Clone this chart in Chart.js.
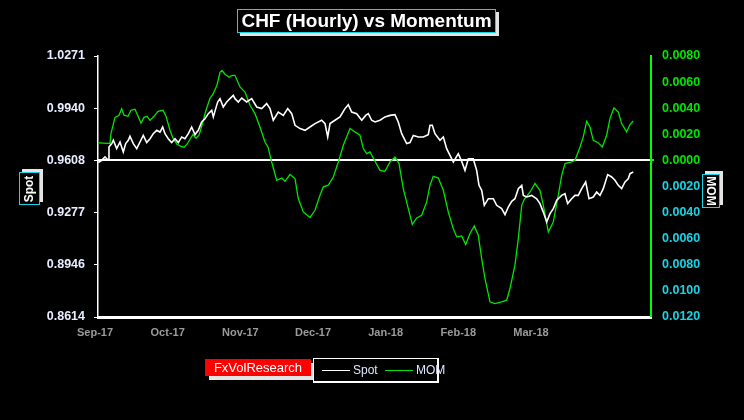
<!DOCTYPE html>
<html lang="en">
<head>
  <meta charset="UTF-8">
  <title>CHF (Hourly) vs Momentum</title>
  <script src="https://cdn.jsdelivr.net/npm/chart.js"></script>
  <style>
    * { box-sizing: border-box; margin: 0; padding: 0; }
    body {
      background: #000;
      width: 744px;
      height: 420px;
      overflow: hidden;
      font-family: 'Liberation Sans', Arial, sans-serif;
    }
    .wrap { position: relative; width: 744px; height: 420px; }
    canvas { position: absolute; left: 0; top: 0; }

    .title {
      position: absolute;
      left: 237px; top: 9px;
      width: 259px; height: 24px;
      border: 1px solid #19d3e6;
      background: #000;
      box-shadow: 3px 3px 0 #e4e4e4;
      color: #fff;
      font-weight: bold;
      font-size: 19px;
      line-height: 22px;
      text-align: center;
      white-space: nowrap;
    }

    .axis-box {
      position: absolute;
      border: 1px solid #19d3e6;
      background: #000;
      box-shadow: 3px -3px 0 #e4e4e4;
      display: flex;
      align-items: center;
      justify-content: center;
    }
    .axis-box span {
      color: #fff;
      font-weight: bold;
      font-size: 12px;
      white-space: nowrap;
    }
    .spot-box { left: 19px; top: 172px; width: 21px; height: 33px; }
    .spot-box span { transform: rotate(-90deg); }
    .mom-box { left: 702px; top: 174px; width: 18px; height: 34px; }
    .mom-box span { transform: rotate(90deg); }

    .brand {
      position: absolute;
      left: 205px; top: 359px;
      width: 106px; height: 17px;
      background: #ff0000;
      box-shadow: 4px 4px 0 #e4e4e4;
      color: #fff;
      font-size: 13px;
      line-height: 17px;
      text-align: center;
      white-space: nowrap;
    }
    .legend {
      position: absolute;
      left: 313px; top: 358px;
      width: 126px; height: 25px;
      border: 1px solid #fff;
      border-right-width: 2px;
      border-bottom-width: 2px;
      background: #000;
    }
    .legend .swatch { position: absolute; top: 11px; width: 28px; height: 1px; }
    .legend .lbl {
      position: absolute; top: 4px;
      color: #dde6ff;
      font-size: 12px;
      line-height: 14px;
      white-space: nowrap;
    }
  </style>
</head>
<body>
  <div class="wrap">
    <canvas id="chart" width="744" height="420"></canvas>
    <div class="title">CHF (Hourly) vs Momentum</div>
    <div class="axis-box spot-box"><span>Spot</span></div>
    <div class="axis-box mom-box"><span>MOM</span></div>
    <div class="brand">FxVolResearch</div>
    <div class="legend">
      <div class="swatch" style="left:8px; background:#fff;"></div>
      <div class="lbl" style="left:39px;">Spot</div>
      <div class="swatch" style="left:71px; background:#00e600;"></div>
      <div class="lbl" style="left:102px;">MOM</div>
    </div>
  </div>

  <script>
    // month labels on the x axis (x values are in months from Sep-17)
    const monthLabels = ['Sep-17', 'Oct-17', 'Nov-17', 'Dec-17', 'Jan-18', 'Feb-18', 'Mar-18'];
    const spotTicks = [0.8614, 0.8946, 0.9277, 0.9608, 0.9940, 1.0271];

    // Spot (left axis)
    const spotT = [0.004, 0.051, 0.096, 0.142, 0.151, 0.189, 0.211, 0.257, 0.303, 0.348,
      0.381, 0.417, 0.440, 0.486, 0.533, 0.578, 0.623, 0.670, 0.716, 0.761,
      0.808, 0.853, 0.890, 0.922, 0.967, 1.014, 1.060, 1.105, 1.152, 1.197,
      1.243, 1.289, 1.335, 1.380, 1.427, 1.472, 1.518, 1.565, 1.587, 1.620,
      1.647, 1.679, 1.724, 1.771, 1.816, 1.862, 1.885, 1.931, 1.977, 2.046,
      2.115, 2.184, 2.253, 2.321, 2.367, 2.412, 2.481, 2.550, 2.611, 2.666,
      2.711, 2.780, 2.849, 2.917, 2.986, 3.078, 3.124, 3.161, 3.193, 3.261,
      3.330, 3.399, 3.444, 3.491, 3.560, 3.629, 3.684, 3.720, 3.766, 3.812,
      3.881, 3.949, 4.018, 4.087, 4.132, 4.179, 4.248, 4.293, 4.339, 4.408,
      4.477, 4.545, 4.569, 4.600, 4.637, 4.706, 4.752, 4.798, 4.844, 4.890,
      4.958, 5.005, 5.050, 5.096, 5.164, 5.211, 5.243, 5.280, 5.316, 5.371,
      5.440, 5.486, 5.555, 5.601, 5.646, 5.693, 5.738, 5.784, 5.831, 5.853,
      5.900, 5.968, 6.037, 6.082, 6.128, 6.175, 6.220, 6.266, 6.313, 6.381,
      6.426, 6.463, 6.518, 6.564, 6.609, 6.656, 6.711, 6.757, 6.816, 6.862,
      6.908, 6.953, 7.014, 7.069, 7.114, 7.160, 7.206, 7.252, 7.297, 7.321,
      7.366];
    const spotVals = [0.9594, 0.9609, 0.9630, 0.9609, 0.9693, 0.9715, 0.9736, 0.9683, 0.9725, 0.9661,
      0.9715, 0.9736, 0.9761, 0.9715, 0.9683, 0.9725, 0.9767, 0.9721, 0.9746, 0.9778,
      0.9799, 0.9788, 0.9820, 0.9778, 0.9746, 0.9721, 0.9746, 0.9721, 0.9757, 0.9746,
      0.9778, 0.9820, 0.9772, 0.9799, 0.9852, 0.9873, 0.9905, 0.9926, 0.9884, 0.9937,
      0.9979, 1.0000, 0.9947, 0.9979, 1.0000, 1.0021, 1.0000, 0.9979, 1.0004, 0.9979,
      1.0000, 0.9947, 0.9937, 0.9969, 0.9937, 0.9863, 0.9915, 0.9894, 0.9937, 0.9905,
      0.9831, 0.9810, 0.9799, 0.9820, 0.9842, 0.9863, 0.9842, 0.9757, 0.9842, 0.9863,
      0.9884, 0.9937, 0.9962, 0.9915, 0.9905, 0.9863, 0.9894, 0.9905, 0.9863, 0.9852,
      0.9863, 0.9884, 0.9894, 0.9899, 0.9852, 0.9778, 0.9715, 0.9721, 0.9767, 0.9757,
      0.9757, 0.9772, 0.9831, 0.9831, 0.9778, 0.9736, 0.9757, 0.9683, 0.9640, 0.9598,
      0.9651, 0.9602, 0.9545, 0.9619, 0.9619, 0.9545, 0.9450, 0.9418, 0.9323, 0.9365,
      0.9365, 0.9323, 0.9302, 0.9264, 0.9312, 0.9348, 0.9365, 0.9429, 0.9450, 0.9386,
      0.9376, 0.9386, 0.9365, 0.9334, 0.9280, 0.9217, 0.9270, 0.9302, 0.9355, 0.9386,
      0.9397, 0.9334, 0.9365, 0.9386, 0.9386, 0.9429, 0.9471, 0.9365, 0.9376, 0.9407,
      0.9386, 0.9429, 0.9518, 0.9503, 0.9482, 0.9450, 0.9429, 0.9471, 0.9492, 0.9524,
      0.9534];

    // Momentum (right axis)
    const momT = [0, 0.138, 0.165, 0.179, 0.234, 0.289, 0.326, 0.358, 0.413, 0.454,
      0.509, 0.564, 0.592, 0.633, 0.674, 0.716, 0.771, 0.826, 0.895, 0.936,
      0.991, 1.032, 1.087, 1.142, 1.183, 1.225, 1.266, 1.307, 1.349, 1.390,
      1.431, 1.486, 1.541, 1.582, 1.637, 1.679, 1.706, 1.748, 1.803, 1.844,
      1.885, 1.954, 2.023, 2.092, 2.160, 2.229, 2.298, 2.339, 2.390, 2.459,
      2.528, 2.573, 2.642, 2.711, 2.756, 2.825, 2.917, 2.986, 3.055, 3.100,
      3.169, 3.238, 3.307, 3.376, 3.468, 3.537, 3.605, 3.651, 3.698, 3.743,
      3.812, 3.881, 3.949, 4.018, 4.087, 4.142, 4.201, 4.270, 4.325, 4.386,
      4.454, 4.523, 4.569, 4.614, 4.683, 4.752, 4.820, 4.889, 4.936, 5.005,
      5.060, 5.119, 5.178, 5.233, 5.280, 5.325, 5.394, 5.463, 5.555, 5.624,
      5.669, 5.738, 5.784, 5.831, 5.866, 5.945, 6.013, 6.082, 6.128, 6.197,
      6.265, 6.334, 6.381, 6.426, 6.518, 6.564, 6.633, 6.678, 6.725, 6.770,
      6.816, 6.885, 6.940, 7.000, 7.045, 7.100, 7.160, 7.206, 7.275, 7.321,
      7.366];
    const momVals = [0.00134, 0.00131, 0.00131, 0.00208, 0.00330, 0.00346, 0.00396, 0.00346, 0.00338, 0.00384,
      0.00392, 0.00323, 0.00285, 0.00330, 0.00338, 0.00307, 0.00338, 0.00376, 0.00384, 0.00338,
      0.00231, 0.00170, 0.00124, 0.00108, 0.00101, 0.00124, 0.00162, 0.00200, 0.00170, 0.00193,
      0.00269, 0.00384, 0.00476, 0.00507, 0.00576, 0.00675, 0.00690, 0.00660, 0.00637, 0.00652,
      0.00652, 0.00563, 0.00524, 0.00422, 0.00359, 0.00256, 0.00141, 0.00103, -0.00012, -0.00152,
      -0.00135, -0.00160, -0.00108, -0.00139, -0.00292, -0.00395, -0.00438, -0.00382, -0.00267, -0.00203,
      -0.00190, -0.00127, -0.00012, 0.00116, 0.00244, 0.00218, 0.00193, 0.00091, 0.00052, 0.00065,
      -0.00007, -0.00076, -0.00083, -0.00012, 0.00026, -0.00024, -0.00216, -0.00369, -0.00491, -0.00441,
      -0.00420, -0.00318, -0.00190, -0.00122, -0.00135, -0.00229, -0.00395, -0.00522, -0.00586, -0.00579,
      -0.00645, -0.00560, -0.00502, -0.00573, -0.00752, -0.00905, -0.01084, -0.01097, -0.01084, -0.01071,
      -0.00982, -0.00803, -0.00599, -0.00344, -0.00298, -0.00242, -0.00177, -0.00229, -0.00344, -0.00548,
      -0.00472, -0.00267, -0.00114, -0.00024, -0.00012, 0.00001, 0.00103, 0.00180, 0.00300, 0.00256,
      0.00154, 0.00134, 0.00103, 0.00193, 0.00320, 0.00402, 0.00371, 0.00282, 0.00218, 0.00275,
      0.00302];

    const font = 'Liberation Sans';
    const green = '#00e600';
    const cyan = '#19d3e6';

    const spotData = spotT.map((t, i) => ({ x: t, y: spotVals[i] }));
    const momData = momT.map((t, i) => ({ x: t, y: momVals[i] }));

    new Chart(document.getElementById('chart').getContext('2d'), {
      type: 'line',
      data: {
        datasets: [
          {
            label: 'Spot',
            data: spotData,
            yAxisID: 'y',
            borderColor: '#ffffff',
            borderWidth: 1.6,
            pointRadius: 0,
            tension: 0
          },
          {
            label: 'MOM',
            data: momData,
            yAxisID: 'y2',
            borderColor: green,
            borderWidth: 1.3,
            pointRadius: 0,
            tension: 0
          }
        ]
      },
      options: {
        responsive: false,
        animation: false,
        layout: { padding: { top: 56, left: 0, right: 0, bottom: 0 } },
        plugins: {
          legend: { display: false },
          tooltip: { enabled: false }
        },
        scales: {
          x: {
            type: 'linear',
            min: 0,
            max: 7.61,
            afterBuildTicks: s => { s.ticks = monthLabels.map((m, i) => ({ value: i })); },
            afterFit: s => { s.height = 103; },
            grid: { display: true, drawOnChartArea: false, drawTicks: false },
            border: { display: true, color: '#ffffff', width: 3 },
            ticks: {
              color: '#9a9a9a',
              font: { family: font, size: 11, weight: 'bold' },
              padding: 9,
              labelOffset: -3,
              maxRotation: 0,
              autoSkip: false,
              callback: v => monthLabels[v]
            }
          },
          y: {
            position: 'left',
            min: 0.8614,
            max: 1.0271,
            afterBuildTicks: s => { s.ticks = spotTicks.map(v => ({ value: v })); },
            afterFit: s => { s.width = 98; },
            grid: { drawOnChartArea: false, drawTicks: true, tickLength: 4, color: '#ffffff', lineWidth: 1 },
            border: { display: true, color: '#ffffff', width: 1.5 },
            ticks: {
              color: '#e8eeff',
              font: { family: font, size: 12.5, weight: 'bold' },
              padding: 9,
              callback: v => v.toFixed(4)
            }
          },
          y2: {
            position: 'right',
            min: -0.012,
            max: 0.008,
            afterFit: s => { s.width = 93; },
            ticks: {
              stepSize: 0.002,
              padding: 8,
              font: { family: font, size: 12.5, weight: 'bold' },
              color: ctx => ctx.tick.value < -1e-9 ? cyan : green,
              callback: v => Math.abs(v).toFixed(4)
            },
            grid: {
              drawOnChartArea: true,
              drawTicks: true,
              tickLength: 3,
              tickColor: '#00ff00',
              lineWidth: ctx => Math.abs(ctx.tick ? ctx.tick.value : 1) < 1e-9 ? 2 : 0,
              color: ctx => (ctx.tick && Math.abs(ctx.tick.value) < 1e-9) ? '#ffffff' : 'rgba(0,0,0,0)'
            },
            border: { display: true, color: '#00ff00', width: 2 }
          }
        }
      }
    });
  </script>
</body>
</html>
